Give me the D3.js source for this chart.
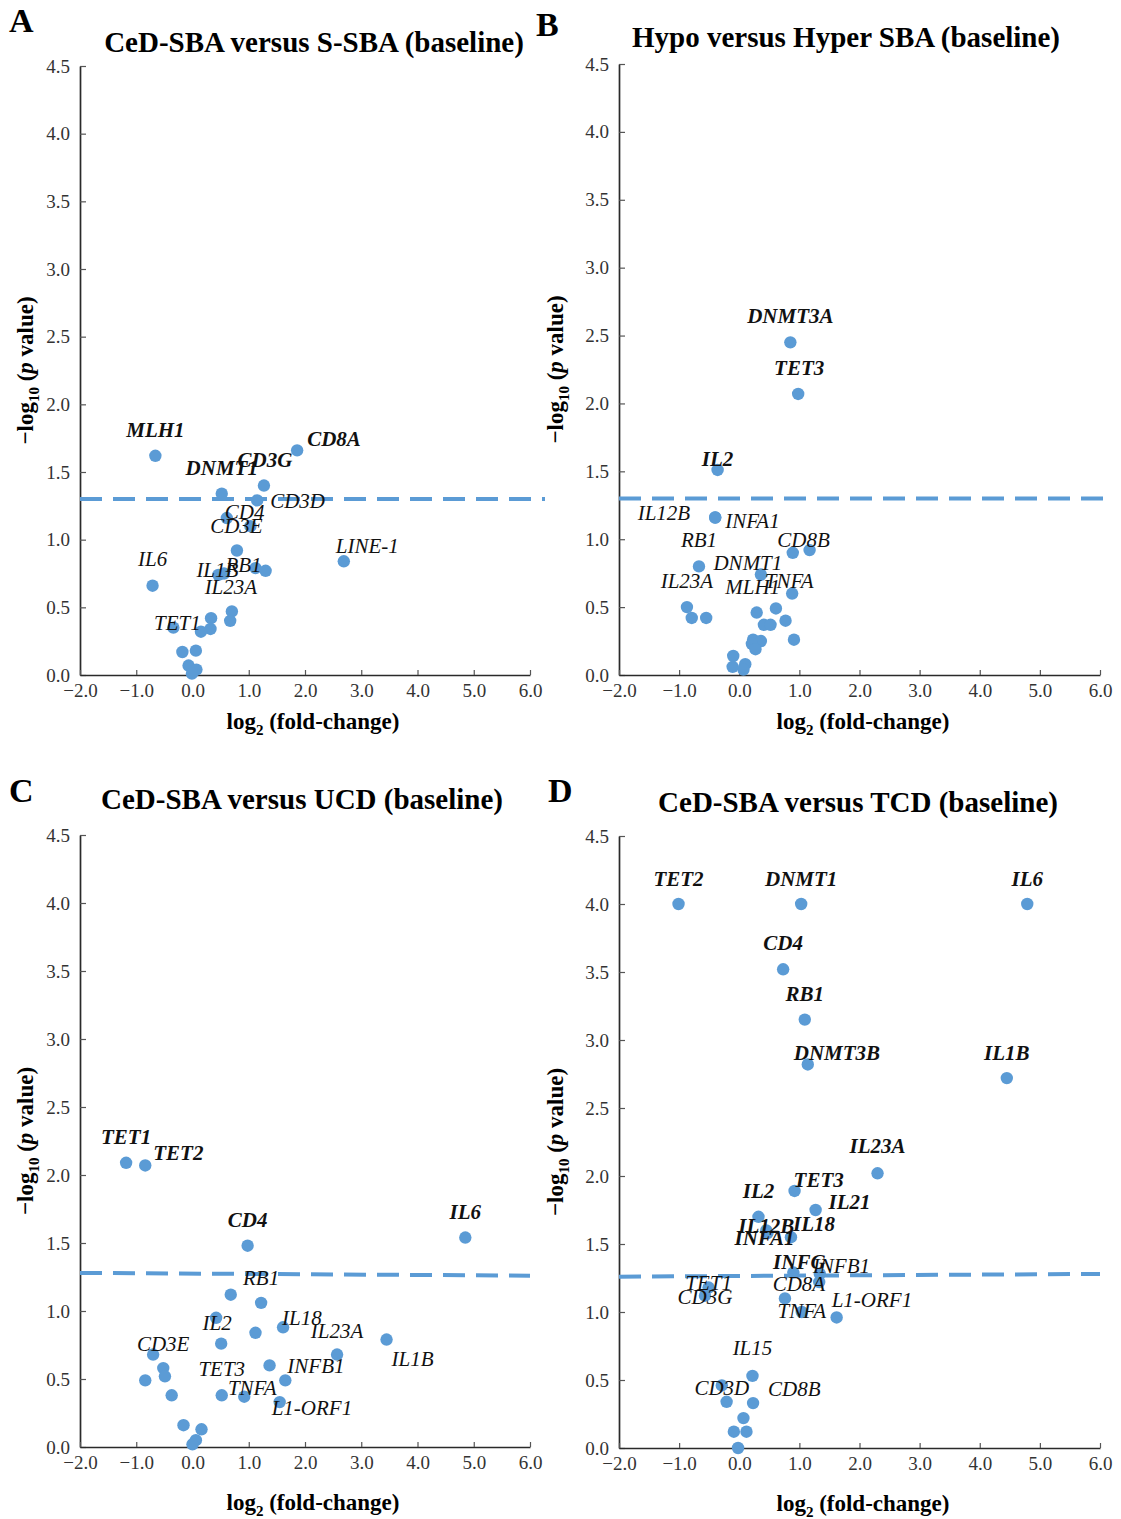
<!DOCTYPE html>
<html>
<head>
<meta charset="utf-8">
<script src="https://cdn.jsdelivr.net/npm/d3@7"></script>
<style>
  body { margin: 0; background: #fff; }
  svg text { font-family: "Liberation Serif", "Times New Roman", serif; }
</style>
</head>
<body>
<div id="chart"></div>
<script>
// ---- data ----
// panel A: CeD-SBA versus S-SBA
const aGenes = ["MLH1", "CD8A", "CD3G", "DNMT1", "CD3D", "CD4", "CD3E", "", "LINE-1", "IL6",
  "IL1B", "", "RB1", "", "IL23A", "", "", "", "", "TET1", "", "", "", "", ""];
const aFC = [-0.66, 1.86, 1.27, 0.52, 1.15, 0.61, 1.03, 0.79, 2.69, -0.71,
  0.46, 0.56, 1.12, 1.30, 0.70, 0.67, 0.33, 0.32, 0.15, -0.34, -0.18, 0.06, -0.07, 0.07, -0.01];
const aLogP = [1.62, 1.66, 1.40, 1.34, 1.29, 1.16, 1.10, 0.92, 0.84, 0.66,
  0.74, 0.75, 0.79, 0.77, 0.47, 0.40, 0.42, 0.34, 0.32, 0.35, 0.17, 0.18, 0.07, 0.04, 0.01];
const aBold = ["MLH1", "CD8A", "CD3G", "DNMT1"];

// panel B: Hypo versus Hyper SBA
const bGenes = ["DNMT3A", "TET3", "IL2", "IL12B", "INFA1", "", "CD8B", "RB1", "DNMT1", "TNFA",
  "IL23A", "", "", "MLH1", "", "", "", "", "", "", "", "", "", "", "", "", ""];
const bFC = [0.85, 0.98, -0.36, -0.40, -0.40, 0.89, 1.17, -0.67, 0.36, 0.88,
  -0.87, -0.79, -0.55, 0.29, 0.61, 0.41, 0.52, 0.77, 0.91, 0.23, 0.36, 0.21, 0.27, -0.10, -0.11, 0.10, 0.07];
const bLogP = [2.45, 2.07, 1.51, 1.16, 1.16, 0.90, 0.92, 0.80, 0.74, 0.60,
  0.50, 0.42, 0.42, 0.46, 0.49, 0.37, 0.37, 0.40, 0.26, 0.26, 0.25, 0.23, 0.19, 0.14, 0.06, 0.08, 0.04];
const bBold = ["DNMT3A", "TET3", "IL2"];

// panel C: CeD-SBA versus UCD
const cGenes = ["TET1", "TET2", "IL6", "CD4", "", "RB1", "IL2", "", "", "IL18",
  "IL1B", "IL23A", "CD3E", "", "", "", "", "", "INFB1", "TET3", "TNFA", "L1-ORF1", "", "", "", ""];
const cFC = [-1.18, -0.84, 4.85, 0.98, 0.68, 1.22, 0.42, 0.51, 1.12, 1.61,
  3.45, 2.57, -0.70, -0.52, -0.49, -0.84, -0.37, 1.37, 1.65, 0.52, 0.92, 1.55, -0.16, 0.16, 0.06, 0.00];
const cLogP = [2.09, 2.07, 1.54, 1.48, 1.12, 1.06, 0.95, 0.76, 0.84, 0.88,
  0.79, 0.68, 0.68, 0.58, 0.52, 0.49, 0.38, 0.60, 0.49, 0.38, 0.37, 0.33, 0.16, 0.13, 0.05, 0.02];
const cBold = ["TET1", "TET2", "IL6", "CD4"];

// panel D: CeD-SBA versus TCD
const dGenes = ["TET2", "DNMT1", "IL6", "CD4", "RB1", "DNMT3B", "IL1B", "IL23A", "TET3", "IL21",
  "IL2", "IL12B", "IL18", "INFA1", "INFG", "INFB1", "", "TET1", "CD3G", "CD8A",
  "TNFA", "L1-ORF1", "IL15", "CD3D", "", "CD8B", "", "", "", ""];
const dFC = [-1.01, 1.03, 4.79, 0.73, 1.09, 1.14, 4.45, 2.30, 0.92, 1.27,
  0.32, 0.45, 0.86, 0.47, 0.90, 1.34, 1.33, -0.51, -0.57, 0.76,
  1.04, 1.62, 0.22, -0.29, -0.21, 0.23, 0.07, -0.09, 0.12, -0.02];
const dLogP = [4.00, 4.00, 4.00, 3.52, 3.15, 2.82, 2.72, 2.02, 1.89, 1.75,
  1.70, 1.60, 1.55, 1.58, 1.29, 1.28, 1.22, 1.18, 1.12, 1.10,
  1.00, 0.96, 0.53, 0.46, 0.34, 0.33, 0.22, 0.12, 0.12, 0.00];
const dBold = ["TET2", "DNMT1", "IL6", "CD4", "RB1", "DNMT3B", "IL1B", "IL23A", "TET3", "IL21",
  "IL2", "IL12B", "IL18", "INFA1", "INFG"];

// significance threshold, left and right end of the dashed line
const aThresh = [1.30, 1.30];
const bThresh = [1.30, 1.30];
const cThresh = [1.28, 1.26];
const dThresh = [1.26, 1.28];

const titles = ["CeD-SBA versus S-SBA (baseline)", "Hypo versus Hyper SBA (baseline)",
  "CeD-SBA versus UCD (baseline)", "CeD-SBA versus TCD (baseline)"];
const letters = ["A", "B", "C", "D"];
const xTicks = [-2, -1, 0, 1, 2, 3, 4, 5, 6];
const yTicks = [0, 0.5, 1, 1.5, 2, 2.5, 3, 3.5, 4, 4.5];

// ---- label placement: [dx, dy, anchor] relative to point ----
const aLab = { MLH1: [0, -19, "middle"], CD8A: [10, -4, "start"], CD3G: [1, -19, "middle"],
  DNMT1: [0, -19, "middle"], CD3D: [13, 8, "start"], CD4: [-2, 1, "start"], CD3E: [-14, 7, "middle"],
  "LINE-1": [-8, -8, "start"], IL6: [0, -20, "middle"], IL1B: [-1, 2, "middle"], RB1: [-12, 4, "middle"],
  IL23A: [-1, -17, "middle"], TET1: [4, 2, "middle"] };
const bLab = { DNMT3A: [0, -19, "middle"], TET3: [1, -19, "middle"], IL2: [0, -4, "middle"],
  IL12B: [-25, 3, "end"], INFA1: [10, 11, "start"], CD8B: [-6, -3, "middle"], RB1: [0, -19, "middle"],
  DNMT1: [-13, -5, "middle"], TNFA: [-3, -6, "middle"], IL23A: [0, -19, "middle"], MLH1: [-4, -19, "middle"] };
const cLab = { TET1: [0, -19, "middle"], TET2: [8, -5, "start"], IL6: [0, -19, "middle"], CD4: [0, -19, "middle"],
  RB1: [0, -18, "middle"], IL2: [1, 12, "middle"], IL18: [-1, -2, "start"], IL1B: [5, 26, "start"],
  IL23A: [0, -17, "middle"], CD3E: [10, -4, "middle"], INFB1: [2, -7, "start"], TET3: [0, -19, "middle"],
  TNFA: [8, -2, "middle"], "L1-ORF1": [-8, 13, "start"] };
const dLab = { TET2: [0, -18, "middle"], DNMT1: [0, -18, "middle"], IL6: [0, -18, "middle"],
  CD4: [0, -19, "middle"], RB1: [0, -19, "middle"], DNMT3B: [-14, -4, "start"], IL1B: [0, -18, "middle"],
  IL23A: [0, -20, "middle"], TET3: [-1, -4, "start"], IL21: [13, -1, "start"], IL2: [0, -19, "middle"],
  IL12B: [0, 3, "middle"], IL18: [2, -6, "start"], INFA1: [-3, 12, "middle"], INFG: [6, -4, "middle"],
  INFB1: [-7, -1, "start"], TET1: [0, 2, "middle"], CD3G: [0, 8, "middle"], CD8A: [14, -7, "middle"],
  TNFA: [0, 6, "middle"], "L1-ORF1": [-5, -10, "start"], IL15: [0, -21, "middle"], CD3D: [0, 10, "middle"],
  CD8B: [15, -7, "start"] };

// ---- layout ----
const W = 1121, H = 1519;
const blue = "#5b9bd5";
const panels = [
  { genes: aGenes, fc: aFC, lp: aLogP, bold: aBold, th: aThresh, lab: aLab,
    x0: 80, x1: 530, y0: 675, y1: 66, lineEnd: 545, title: [314, 52], letter: [9, 32], ylab: 33, xlab: [313, 729] },
  { genes: bGenes, fc: bFC, lp: bLogP, bold: bBold, th: bThresh, lab: bLab,
    x0: 619, x1: 1100, y0: 675, y1: 64, lineEnd: 1103, title: [846, 47], letter: [536, 36], ylab: 563, xlab: [863, 729] },
  { genes: cGenes, fc: cFC, lp: cLogP, bold: cBold, th: cThresh, lab: cLab,
    x0: 80, x1: 530, y0: 1447, y1: 835, lineEnd: 530, title: [302, 809], letter: [9, 802], ylab: 33, xlab: [313, 1510] },
  { genes: dGenes, fc: dFC, lp: dLogP, bold: dBold, th: dThresh, lab: dLab,
    x0: 619, x1: 1100, y0: 1448, y1: 836, lineEnd: 1100, title: [858, 812], letter: [548, 802], ylab: 563, xlab: [863, 1511] }
];

const svg = d3.select("#chart").append("svg")
  .attr("width", W).attr("height", H);

panels.forEach((p, i) => {
  const x = d3.scaleLinear().domain([-2, 6]).range([p.x0, p.x1]);
  const y = d3.scaleLinear().domain([0, 4.5]).range([p.y0, p.y1]);
  const g = svg.append("g");

  // axes
  const yAxis = g.append("g")
    .attr("transform", `translate(${p.x0},0)`)
    .call(d3.axisLeft(y).tickValues(yTicks).tickFormat(d3.format(".1f"))
      .tickSizeInner(-6).tickSizeOuter(0).tickPadding(10));
  const xAxis = g.append("g")
    .attr("transform", `translate(0,${p.y0})`)
    .call(d3.axisBottom(x).tickValues(xTicks).tickFormat(d3.format(".1f"))
      .tickSizeInner(-5).tickSizeOuter(0).tickPadding(9));
  [yAxis, xAxis].forEach(ax => {
    ax.select(".domain").attr("stroke", "#2a2a2a").attr("stroke-width", 1.7);
    ax.selectAll(".tick line").attr("stroke", "#555").attr("stroke-width", 1.2);
    ax.selectAll(".tick text").attr("fill", "#333").style("font-size", "19px")
      .style("font-family", "'Liberation Serif', 'Times New Roman', serif");
  });

  // points
  const pts = p.fc.map((v, k) => ({ gene: p.genes[k], fc: v, lp: p.lp[k] }));
  g.selectAll("circle").data(pts).enter().append("circle")
    .attr("cx", d => x(d.fc)).attr("cy", d => y(d.lp))
    .attr("r", 6.2).attr("fill", blue);

  // significance line
  g.append("line")
    .attr("x1", p.x0).attr("x2", p.lineEnd)
    .attr("y1", y(p.th[0])).attr("y2", y(p.th[1]))
    .attr("stroke", blue).attr("stroke-width", 4).attr("stroke-dasharray", "22,11");

  // gene labels
  g.selectAll("text.gene").data(pts.filter(d => d.gene !== "")).enter().append("text")
    .attr("class", "gene")
    .attr("x", d => x(d.fc) + p.lab[d.gene][0])
    .attr("y", d => y(d.lp) + p.lab[d.gene][1])
    .attr("text-anchor", d => p.lab[d.gene][2])
    .style("font-size", "21px").style("font-style", "italic")
    .style("font-weight", d => p.bold.includes(d.gene) ? "bold" : "normal")
    .attr("fill", "#111")
    .text(d => d.gene);

  // title and panel letter
  g.append("text").attr("x", p.title[0]).attr("y", p.title[1])
    .attr("text-anchor", "middle").style("font-size", "29px").style("font-weight", "bold")
    .text(titles[i]);
  g.append("text").attr("x", p.letter[0]).attr("y", p.letter[1])
    .style("font-size", "34px").style("font-weight", "bold")
    .text(letters[i]);

  // x axis title
  const xl = g.append("text").attr("x", p.xlab[0]).attr("y", p.xlab[1])
    .attr("text-anchor", "middle").style("font-size", "23px").style("font-weight", "bold");
  xl.append("tspan").text("log");
  xl.append("tspan").attr("dy", 6).style("font-size", "15px").text("2");
  xl.append("tspan").attr("dy", -6).text(" (fold-change)");

  // y axis title
  const yc = (p.y0 + p.y1) / 2;
  const yl = g.append("text")
    .attr("transform", `translate(${p.ylab},${yc}) rotate(-90)`)
    .attr("text-anchor", "middle").style("font-size", "23px").style("font-weight", "bold");
  yl.append("tspan").text("\u2212log");
  yl.append("tspan").attr("dy", 6).style("font-size", "15px").text("10");
  yl.append("tspan").attr("dy", -6).text(" (");
  yl.append("tspan").style("font-style", "italic").text("p");
  yl.append("tspan").text(" value)");
});
</script>
</body>
</html>
